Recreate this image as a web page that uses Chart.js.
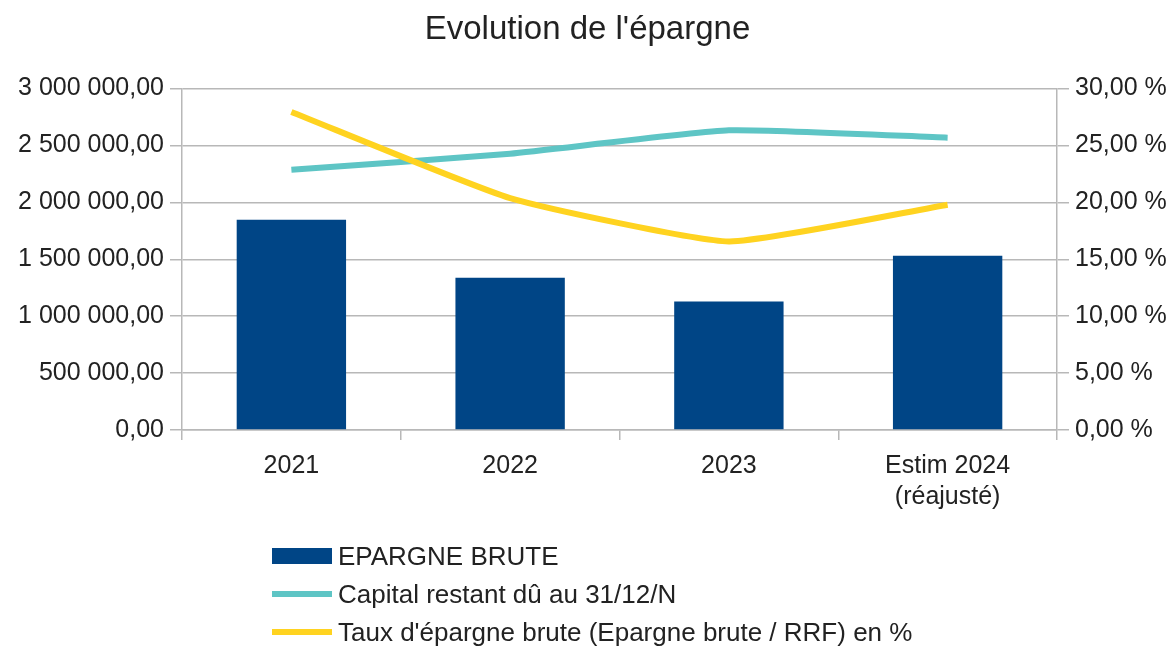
<!DOCTYPE html>
<html>
<head>
<meta charset="utf-8">
<script src="https://cdn.jsdelivr.net/npm/chart.js@4"></script>
<style>
    body { margin: 0; background: #fff; font-family: "Liberation Sans", Arial, sans-serif; }
    #wrap { position: relative; width: 1175px; height: 646px; }
    #legend { position: absolute; left: 272px; top: 537px; color: #222; font-size: 26px; }
    .item { display: flex; align-items: center; height: 38px; }
    .mark { width: 60px; margin-right: 6px; }
</style>
</head>
<body>
<div id="wrap">
    <canvas id="chart"></canvas>
    <div id="legend"></div>
</div>
<script>
const categories = ["2021", "2022", "2023", ["Estim 2024", "(réajusté)"]];
const epargneBrute = [1848000, 1337000, 1129000, 1531000];
const capitalRestant = [2287000, 2428000, 2633000, 2569000];
const tauxEpargne = [27.95, 20.38, 16.57, 19.8];
const leftTicks = ["0,00", "500 000,00", "1 000 000,00", "1 500 000,00", "2 000 000,00", "2 500 000,00", "3 000 000,00"];
const rightTicks = ["0,00 %", "5,00 %", "10,00 %", "15,00 %", "20,00 %", "25,00 %", "30,00 %"];

const FONT = "'Liberation Sans', Arial, sans-serif";
const GRID = "#b8b8b8";

const series = [
    { label: "EPARGNE BRUTE", color: "#004586", bar: true },
    { label: "Capital restant dû au 31/12/N", color: "#5ec5c5" },
    { label: "Taux d'épargne brute (Epargne brute / RRF) en %", color: "#ffd320" }
];

const ctx = document.getElementById("chart").getContext("2d");
new Chart(ctx, {
    data: {
        labels: categories,
        datasets: [
            {
                type: "bar",
                label: series[0].label,
                data: epargneBrute,
                backgroundColor: series[0].color,
                barPercentage: 0.5,
                categoryPercentage: 1,
                yAxisID: "y",
                order: 2
            },
            {
                type: "line",
                label: series[1].label,
                data: capitalRestant,
                borderColor: series[1].color,
                borderWidth: 6,
                pointRadius: 0,
                tension: 0.15,
                yAxisID: "y",
                order: 1
            },
            {
                type: "line",
                label: series[2].label,
                data: tauxEpargne,
                borderColor: series[2].color,
                borderWidth: 6,
                pointRadius: 0,
                tension: 0.15,
                yAxisID: "y1",
                order: 0
            }
        ]
    },
    options: {
        responsive: true,
        maintainAspectRatio: false,
        animation: false,
        layout: { padding: 0 },
        plugins: {
            legend: { display: false },
            tooltip: { enabled: false },
            title: {
                display: true,
                text: "Evolution de l'épargne",
                color: "#222",
                font: { family: FONT, size: 33, weight: "normal" },
                padding: { top: 10, bottom: 39 }
            }
        },
        scales: {
            x: {
                grid: { drawOnChartArea: false, drawTicks: true, tickLength: 10, color: GRID, lineWidth: 1.5 },
                border: { color: GRID, width: 1.5 },
                ticks: { color: "#222", font: { family: FONT, size: 25, lineHeight: 1.25 }, padding: 10, maxRotation: 0 },
                afterFit: (s) => { s.height = 216; }
            },
            y: {
                position: "left",
                min: 0,
                max: 3000000,
                grid: { color: GRID, lineWidth: 1.5, tickLength: 12 },
                border: { color: GRID, width: 1.5 },
                ticks: {
                    stepSize: 500000,
                    color: "#222",
                    font: { family: FONT, size: 25 },
                    padding: 6,
                    callback: (v, i) => leftTicks[i]
                },
                afterFit: (s) => { s.width = 182; }
            },
            y1: {
                position: "right",
                min: 0,
                max: 30,
                grid: { drawOnChartArea: false, color: GRID, lineWidth: 1.5, tickLength: 12 },
                border: { color: GRID, width: 1.5 },
                ticks: {
                    stepSize: 5,
                    color: "#222",
                    font: { family: FONT, size: 25 },
                    padding: 6,
                    callback: (v, i) => rightTicks[i]
                },
                afterFit: (s) => { s.width = 118; }
            }
        }
    }
});

// legend stacked under the chart, one row per series
const legend = document.getElementById("legend");
series.forEach(s => {
    const row = document.createElement("div");
    row.className = "item";
    const mark = document.createElement("div");
    mark.className = "mark";
    mark.style.height = s.bar ? "16px" : "6px";
    mark.style.background = s.color;
    const txt = document.createElement("span");
    txt.textContent = s.label;
    row.appendChild(mark);
    row.appendChild(txt);
    legend.appendChild(row);
});
</script>
</body>
</html>
